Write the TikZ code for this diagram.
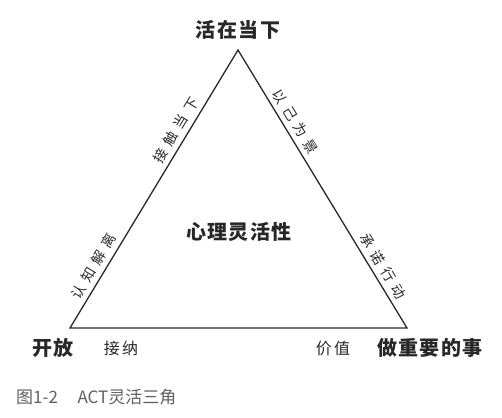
\documentclass[tikz,border=0pt]{standalone}
\usepackage{fontspec}
\setmainfont{Noto Sans CJK SC}
\newfontfamily\cjkbold{Noto Sans CJK SC}[LetterSpace=7]
\newfontfamily\cjkside{Noto Sans CJK SC}[LetterSpace=40]
\newfontfamily\cjkbase{Noto Sans CJK SC}[LetterSpace=15]
\usetikzlibrary{positioning}
\definecolor{linegray}{RGB}{40,40,40}
\definecolor{capgray}{RGB}{95,95,95}

\begin{document}
\begin{tikzpicture}[x=1pt, y=-1pt,
    corner/.style={font=\cjkbold\fontsize{20}{20}\selectfont\bfseries, text=linegray, inner sep=0pt},
    side/.style={font=\cjkside\fontsize{14}{14}\selectfont, text=linegray, sloped, above=5pt, inner sep=0pt},
    base/.style={font=\cjkbase\fontsize{16}{16}\selectfont, text=linegray, inner sep=0pt}]
    \useasboundingbox (0,0) rectangle (502,417);

    % triangle
    \coordinate (top) at (238,50);
    \coordinate (left) at (70,328);
    \coordinate (right) at (407,328);
    \draw[linegray, line width=1.3pt, line join=miter] (left) -- (top) -- (right) -- cycle;

    % corners and centre
    \node[corner] (present) at (238,30) {活在当下};
    \node[corner] (open) at (53,348) {开放};
    \node[corner] (engaged) at (430,348) {做重要的事};
    \node[corner] (flex) at (239,232) {心理灵活性};

    % processes along the sides
    \path (left) -- (top)
        node[side, pos=0.2] (defusion) {认知解离}
        node[side, pos=0.69] (contact) {接触当下};
    \path (top) -- (right)
        node[side, pos=0.28] (self) {以己为景}
        node[side, pos=0.80] (action) {承诺行动};
    \node[base] (accept) at (121,348) {接纳};
    \node[base] (values) at (333,348) {价值};

    % caption
    \node[anchor=west, text=capgray, inner sep=0pt, font=\fontsize{17}{17}\selectfont] (caption) at (16,397) {图1-2\hspace{1.15em}ACT灵活三角};
\end{tikzpicture}
\end{document}
